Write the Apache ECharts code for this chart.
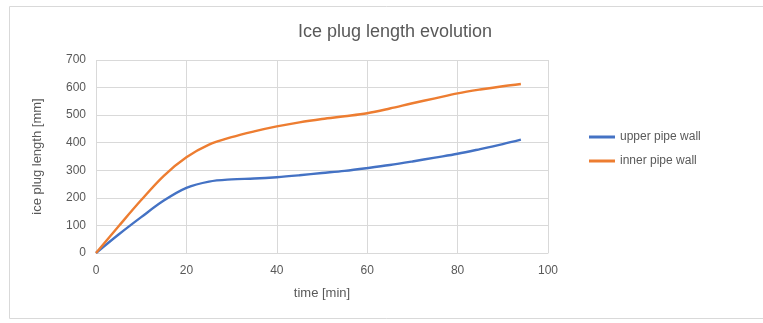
<!DOCTYPE html>
<html><head><meta charset="utf-8">
<script src="https://cdn.jsdelivr.net/npm/echarts@6/dist/echarts.min.js"></script>
<style>html,body{margin:0;padding:0;background:#fff}#c{width:763px;height:323px}</style>
</head><body><div id="c"></div>
<script>
const times = [0, 5, 10, 15, 20, 25, 30, 35, 40, 45, 50, 55, 60, 65, 70, 75, 80, 85, 90, 94];
const upperWall = [0, 67, 130, 190, 236, 259, 267, 270, 275, 282, 290, 298, 308, 319, 332, 346, 360, 377, 395, 411];
const innerWall = [0, 97, 192, 280, 347, 393, 420, 441, 459, 474, 486, 496, 507, 524, 543, 561, 579, 593, 605, 613];
const seriesNames = ['upper pipe wall', 'inner pipe wall'];
const font = 'Liberation Sans';
const chart = echarts.init(document.getElementById('c'));
const pair = (xs, ys) => xs.map((x, i) => [x, ys[i]]);
chart.setOption({
  animation: false,
  title: { text: 'Ice plug length evolution', left: 390, top: 18, textAlign: 'center',
    textStyle: { fontFamily: font, fontSize: 18, fontWeight: 'normal', color: '#595959' } },
  graphic: [{ type: 'rect', shape: { x: 9.5, y: 6.5, width: 760, height: 312 },
    style: { fill: 'none', stroke: '#d9d9d9', lineWidth: 1 }, silent: true }],
  legend: { orient: 'vertical', left: 584, top: 126, itemGap: 12, itemWidth: 26, itemHeight: 3,
    icon: 'rect', textStyle: { fontFamily: font, fontSize: 12, color: '#595959' },
    data: seriesNames },
  grid: { left: 96, right: 215, top: 60, bottom: 70 },
  xAxis: { type: 'value', min: 0, max: 100, interval: 20, name: 'time [min]',
    nameLocation: 'middle', nameGap: 34,
    nameTextStyle: { fontFamily: font, fontSize: 13, color: '#595959' },
    axisLine: { show: true, lineStyle: { color: '#d9d9d9' } }, axisTick: { show: false },
    axisLabel: { fontFamily: font, fontSize: 12, color: '#595959', margin: 12 },
    splitLine: { show: true, lineStyle: { color: '#d9d9d9' } } },
  yAxis: { type: 'value', min: 0, max: 700, interval: 100, name: 'ice plug length [mm]',
    nameLocation: 'middle', nameGap: 52, nameRotate: 90,
    nameTextStyle: { fontFamily: font, fontSize: 13, color: '#595959' },
    axisLine: { show: false }, axisTick: { show: false },
    axisLabel: { fontFamily: font, fontSize: 12, color: '#595959', margin: 10 },
    splitLine: { show: true, lineStyle: { color: '#d9d9d9' } } },
  series: [
    { name: seriesNames[0], type: 'line', data: pair(times, upperWall), smooth: 0.35,
      showSymbol: false, lineStyle: { color: '#4472c4', width: 2.4 }, itemStyle: { color: '#4472c4' } },
    { name: seriesNames[1], type: 'line', data: pair(times, innerWall), smooth: 0.35,
      showSymbol: false, lineStyle: { color: '#ed7d31', width: 2.4 }, itemStyle: { color: '#ed7d31' } }
  ]
});
</script></body></html>
